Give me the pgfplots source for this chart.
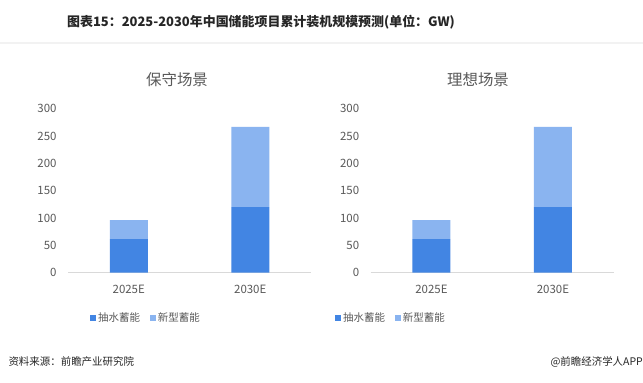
\documentclass[border=0pt]{standalone}
\usepackage{fontspec}
\setmainfont{Noto Sans CJK SC}
\usepackage{pgfplots}
\pgfplotsset{compat=1.18}
\definecolor{cA}{HTML}{4285E3}
\definecolor{cB}{HTML}{8AB4F0}
\definecolor{tickc}{HTML}{595959}
\definecolor{axc}{HTML}{D9D9D9}
\definecolor{titc}{HTML}{262626}
\pgfplotsset{
  mystyle/.style={
    scale only axis, width=243bp, height=163.7bp,
    ybar stacked, bar width=38bp,
    xmin=-0.5, xmax=1.5, ymin=0, ymax=300,
    xtick={0,1}, xticklabels={2025E,2030E},
    ytick={0,50,...,300},
    axis lines*=left,
    y axis line style={draw=none},
    x axis line style={draw=axc, line width=1bp, -},
    tick style={draw=none},
    /pgf/number format/assume math mode=true,
    ticklabel style={font=\fontsize{11.5}{13}\selectfont, text=tickc},
    yticklabel style={xshift=-8bp},
    xticklabel style={yshift=-9bp},
    legend columns=2,
    legend style={draw=none, fill=none, font=\fontsize{10.5}{12}\selectfont, text=tickc,
      /tikz/every even column/.append style={column sep=8bp}},
  }
}
\begin{document}
\begin{tikzpicture}[x=1bp,y=1bp]
\useasboundingbox[fill=white] (0,0) rectangle (643,382);
\node[font=\bfseries\fontsize{13}{15}\selectfont, text=titc] at (261,360.3) {图表15：2025-2030年中国储能项目累计装机规模预测(单位：GW)};
\draw[color=black!5, line width=2bp] (0,339) -- (643,339);
\node[font=\fontsize{15.5}{17}\selectfont, text=tickc] at (177,302) {保守场景};
\node[font=\fontsize{15.5}{17}\selectfont, text=tickc] at (478,302) {理想场景};
\begin{axis}[mystyle, at={(68bp,109.5bp)}, anchor=south west,
  legend style={at={(0.321,-0.277)}, anchor=center}]
\addplot[fill=cA, draw=none, legend image code/.code={\fill[cA] (0bp,-3bp) rectangle (6bp,3bp);}] coordinates {(0,61) (1,120)};
\addplot[fill=cB, draw=none, legend image code/.code={\fill[cB] (0bp,-3bp) rectangle (6bp,3bp);}] coordinates {(0,35) (1,147)};
\legend{抽水蓄能,新型蓄能}
\end{axis}
\begin{axis}[mystyle, at={(370.7bp,109.5bp)}, anchor=south west,
  legend style={at={(0.0835,-0.277)}, anchor=center}]
\addplot[fill=cA, draw=none, legend image code/.code={\fill[cA] (0bp,-3bp) rectangle (6bp,3bp);}] coordinates {(0,61) (1,120)};
\addplot[fill=cB, draw=none, legend image code/.code={\fill[cB] (0bp,-3bp) rectangle (6bp,3bp);}] coordinates {(0,35) (1,147)};
\legend{抽水蓄能,新型蓄能}
\end{axis}
\node[anchor=west, font=\fontsize{10.5}{12}\selectfont, text=titc] at (5,20.3) {资料来源：前瞻产业研究院};
\node[anchor=east, font=\fontsize{10.5}{12}\selectfont, text=titc, inner sep=0pt] at (643,20.3) {@前瞻经济学人APP};
\end{tikzpicture}
\end{document}
